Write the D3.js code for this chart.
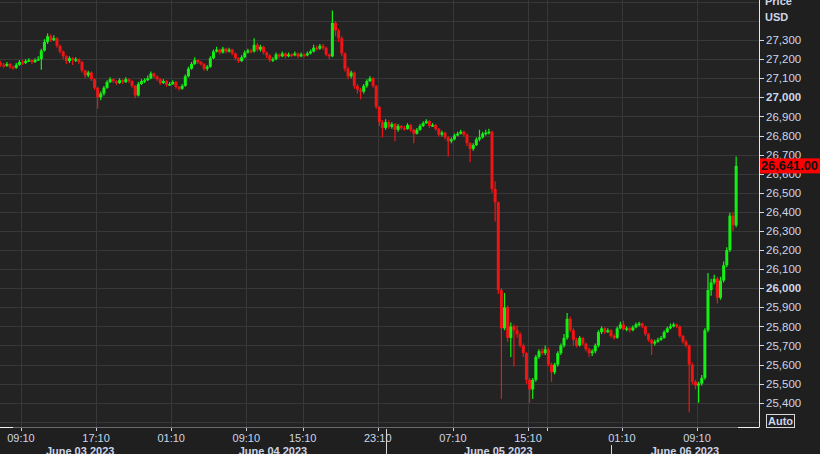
<!DOCTYPE html>
<html><head><meta charset="utf-8">
<script src="https://cdn.jsdelivr.net/npm/d3@7"></script>
<style>html,body{margin:0;padding:0;background:#1f1f1f;overflow:hidden}svg{display:block}</style>
</head><body>
<svg id="chart" width="820" height="454"></svg>
<script>
// ---------- DATA ----------
const startTime = "2023-06-03T07:00:00Z";   // first candle
const stepMinutes = 20;                      // candle interval
const firstOpen = 27180;
const closes = [
27170,27165,27175,27160,27155,27170,27185,27180,27190,27195,
27185,27195,27200,27245,27290,27320,27300,27310,27270,27240,
27215,27190,27205,27195,27200,27185,27140,27115,27130,27095,
27050,27000,27020,27050,27080,27095,27085,27075,27090,27080,
27095,27085,27060,27010,27070,27085,27090,27100,27125,27110,
27095,27075,27085,27065,27070,27080,27055,27045,27060,27110,
27150,27175,27195,27185,27175,27150,27160,27205,27240,27250,
27235,27255,27240,27250,27230,27205,27190,27210,27235,27245,
27240,27275,27250,27265,27235,27220,27195,27200,27225,27215,
27230,27215,27225,27220,27230,27215,27225,27220,27230,27240,
27260,27255,27270,27260,27225,27215,27390,27350,27310,27230,
27150,27110,27130,27060,27040,27030,27060,27085,27100,27060,
26950,26870,26840,26870,26845,26860,26830,26850,26840,26835,
26855,26830,26810,26830,26850,26865,26875,26850,26855,26835,
26805,26815,26790,26770,26780,26800,26810,26820,26805,26760,
26730,26750,26780,26790,26810,26815,26820,26520,26450,25990,
25790,25900,25740,25800,25780,25760,25700,25660,25520,25470,
25520,25640,25670,25660,25680,25600,25560,25600,25660,25700,
25740,25840,25780,25730,25700,25740,25710,25680,25660,25670,
25700,25770,25790,25770,25780,25750,25740,25790,25810,25785,
25790,25780,25795,25810,25815,25800,25760,25730,25710,25720,
25730,25740,25770,25790,25800,25810,25800,25750,25720,25700,
25600,25510,25490,25500,25530,25780,25990,26030,26050,25950,
26040,26120,26200,26380,26330,26641];
const highs = [
27190,27180,27185,27180,27165,27180,27195,27195,27200,27205,
27200,27205,27215,27255,27305,27335,27330,27325,27315,27275,
27245,27220,27215,27210,27210,27205,27190,27145,27140,27135,
27100,27055,27030,27060,27090,27105,27100,27090,27100,27095,
27105,27100,27090,27065,27080,27095,27100,27115,27135,27130,
27115,27100,27095,27090,27080,27090,27085,27060,27070,27120,
27160,27185,27210,27200,27190,27180,27170,27215,27250,27265,
27255,27265,27260,27260,27255,27235,27210,27220,27245,27255,
27255,27310,27285,27275,27270,27240,27225,27210,27235,27230,
27240,27235,27235,27230,27240,27235,27235,27230,27240,27250,
27275,27270,27280,27280,27265,27230,27455,27400,27360,27320,
27235,27160,27140,27135,27070,27050,27070,27095,27110,27105,
27065,26955,26880,26885,26880,26870,26865,26860,26855,26850,
26865,26860,26835,26840,26860,26875,26885,26880,26865,26860,
26840,26825,26820,26795,26790,26810,26820,26830,26825,26810,
26765,26760,26790,26830,26820,26830,26835,26825,26560,26455,
26000,25975,25910,25820,25810,25805,25770,25710,25665,25530,
25530,25650,25680,25685,25700,25690,25610,25610,25670,25710,
25760,25870,25850,25790,25740,25750,25745,25715,25690,25680,
25710,25780,25800,25795,25790,25785,25760,25800,25825,25830,
25800,25795,25805,25820,25825,25820,25805,25765,25735,25730,
25740,25750,25780,25800,25815,25820,25815,25805,25755,25730,
25705,25610,25520,25510,25545,25790,26080,26050,26070,26060,
26060,26140,26215,26395,26400,26690];
const lows = [
27160,27155,27160,27150,27145,27150,27165,27170,27175,27185,
27175,27180,27190,27145,27240,27280,27290,27295,27260,27230,
27200,27175,27180,27170,27185,27175,27130,27100,27105,27085,
27040,26940,26985,27010,27045,27075,27075,27065,27070,27070,
27075,27075,27050,26995,27005,27065,27075,27085,27095,27100,
27085,27065,27070,27055,27060,27065,27045,27035,27040,27055,
27105,27145,27170,27175,27165,27140,27140,27155,27200,27235,
27225,27230,27230,27235,27220,27195,27180,27185,27205,27230,
27230,27235,27240,27240,27225,27205,27185,27185,27195,27205,
27210,27205,27210,27210,27215,27205,27210,27210,27215,27225,
27235,27245,27250,27250,27215,27200,27210,27320,27290,27215,
27135,27095,27100,27045,27020,26990,27020,27050,27080,27050,
26940,26850,26790,26830,26835,26835,26770,26820,26830,26825,
26830,26820,26760,26805,26825,26845,26860,26840,26845,26825,
26795,26795,26780,26690,26760,26775,26795,26805,26795,26745,
26660,26720,26745,26770,26785,26800,26805,26500,26350,25970,
25420,25780,25720,25640,25590,25740,25690,25640,25500,25400,
25420,25510,25630,25650,25650,25590,25510,25550,25590,25650,
25690,25730,25770,25700,25690,25695,25700,25670,25640,25645,
25660,25690,25760,25760,25765,25740,25730,25735,25785,25780,
25775,25770,25775,25790,25800,25790,25750,25720,25650,25700,
25715,25725,25735,25765,25785,25795,25790,25740,25710,25690,
25350,25495,25470,25400,25490,25520,25770,25960,26020,25920,
25940,26030,26110,26190,26300,26320];
const lastPrice = 26641.00;
const priceTicks = [25400,25500,25600,25700,25800,25900,26000,26100,26200,26300,26400,26500,26600,26700,26800,26900,27000,27100,27200,27300];
const boldPriceTicks = [26000,27000];
const gridPrices = [25300,25400,25500,25600,25700,25800,25900,26000,26100,26200,26300,26400,26500,26600,26700,26800,26900,27000,27100,27200,27300,27400,27500];
const timeTicks = ["2023-06-03T09:10Z","2023-06-03T17:10Z","2023-06-04T01:10Z","2023-06-04T09:10Z","2023-06-04T15:10Z","2023-06-04T23:10Z","2023-06-05T07:10Z","2023-06-05T15:10Z","2023-06-05T17:10Z","2023-06-06T01:10Z","2023-06-06T09:10Z"];
const timeTickLabels = ["09:10","17:10","01:10","09:10","15:10","23:10","07:10","15:10","","01:10","09:10"];
const days = ["2023-06-03","2023-06-04","2023-06-05","2023-06-06"];
const dayLabels = ["June 03 2023","June 04 2023","June 05 2023","June 06 2023"];
const daySeparators = ["2023-06-05T00:00Z","2023-06-06T00:00Z"];
const viewStart = "2023-06-03T06:56:00Z", viewEnd = "2023-06-06T15:46:00Z";
const priceMin = 25273, priceMax = 27510;

// ---------- LAYOUT ----------
const W = 820, H = 454, plotW = 759, plotH = 427;
const textCol = "#cdd6e8", gridCol = "#383838", upCol = "#14f014", downCol = "#f01414";
const svg = d3.select("#chart");
const x = d3.scaleUtc().domain([new Date(viewStart), new Date(viewEnd)]).range([0, plotW]);
const y = d3.scaleLinear().domain([priceMin, priceMax]).range([plotH, 0]);

svg.append("rect").attr("width", W).attr("height", H).attr("fill", "#1f1f1f");
svg.append("rect").attr("width", plotW).attr("height", plotH).attr("fill", "#232323");

svg.append("defs").append("clipPath").attr("id","clip").append("rect").attr("width", plotW).attr("height", plotH);
const plot = svg.append("g").attr("clip-path","url(#clip)");

// grid
plot.selectAll("line.hg").data(gridPrices).join("line").attr("class","hg")
  .attr("x1",0).attr("x2",plotW).attr("y1",d=>Math.round(y(d))+0.5).attr("y2",d=>Math.round(y(d))+0.5)
  .attr("stroke",gridCol).attr("stroke-width",1);
plot.selectAll("line.vg").data(timeTicks).join("line").attr("class","vg")
  .attr("y1",0).attr("y2",plotH).attr("x1",d=>Math.round(x(new Date(d)))+0.5).attr("x2",d=>Math.round(x(new Date(d)))+0.5)
  .attr("stroke",gridCol).attr("stroke-width",1);

// candles
const t0 = new Date(startTime).getTime();
const candles = closes.map((c,i)=>({
  t: new Date(t0 + i*stepMinutes*60000),
  o: i===0 ? firstOpen : closes[i-1], c, h: highs[i], l: lows[i]
}));
const bw = 3.0;
const cg = plot.append("g");
cg.selectAll("line").data(candles).join("line")
  .attr("x1",d=>x(d.t)).attr("x2",d=>x(d.t))
  .attr("y1",d=>y(d.h)).attr("y2",d=>y(d.l))
  .attr("stroke",d=>d.c>=d.o?upCol:downCol).attr("stroke-width",1.2);
cg.selectAll("rect").data(candles).join("rect")
  .attr("x",d=>x(d.t)-bw/2).attr("width",bw)
  .attr("y",d=>y(Math.max(d.o,d.c)))
  .attr("height",d=>Math.max(1.5,Math.abs(y(d.o)-y(d.c))))
  .attr("fill",d=>d.c>=d.o?upCol:downCol);

// right axis
const axR = svg.append("g").attr("transform",`translate(${plotW},0)`);
axR.append("line").attr("x1",0.5).attr("x2",0.5).attr("y1",0).attr("y2",plotH+0.5).attr("stroke","#e8e8e8");
axR.selectAll("line.t").data(priceTicks).join("line").attr("class","t")
  .attr("x1",1).attr("x2",5).attr("y1",d=>Math.round(y(d))+0.5).attr("y2",d=>Math.round(y(d))+0.5).attr("stroke",textCol);
axR.selectAll("text.t").data(priceTicks).join("text").attr("class","t")
  .attr("x",7).attr("y",d=>y(d)).attr("dy","0.36em")
  .attr("font-family","'Liberation Sans', Arial, sans-serif").attr("font-size","11.5px")
  .attr("font-weight",d=>boldPriceTicks.includes(d)?"bold":"normal")
  .attr("fill",textCol).text(d=>d3.format(",")(d));
axR.append("text").attr("x",6).attr("y",5).attr("font-family","'Liberation Sans', Arial, sans-serif")
  .attr("font-size","11px").attr("font-weight","bold").attr("fill",textCol).text("Price");
axR.append("text").attr("x",6).attr("y",21).attr("font-family","'Liberation Sans', Arial, sans-serif")
  .attr("font-size","11px").attr("font-weight","bold").attr("fill",textCol).text("USD");

// last price label
const ly = y(lastPrice);
svg.append("rect").attr("x",plotW+1).attr("y",ly-7.5).attr("width",W-plotW-1).attr("height",15).attr("fill","#ff0000");
svg.append("text").attr("x",plotW+2).attr("y",ly).attr("dy","0.37em")
  .attr("font-family","'Liberation Sans', Arial, sans-serif").attr("font-size","12px").attr("font-weight","bold")
  .attr("textLength",57).attr("lengthAdjust","spacingAndGlyphs")
  .attr("fill","#111").text(d3.format(",.2f")(lastPrice));

// Auto box
svg.append("rect").attr("x",766.5).attr("y",414.5).attr("width",28).attr("height",13).attr("fill","none").attr("stroke","#d8d8d8");
svg.append("text").attr("x",780.5).attr("y",425).attr("text-anchor","middle")
  .attr("font-family","'Liberation Sans', Arial, sans-serif").attr("font-size","11px").attr("font-weight","bold")
  .attr("fill",textCol).text("Auto");

// bottom axis
svg.append("line").attr("x1",0).attr("x2",plotW).attr("y1",plotH+0.5).attr("y2",plotH+0.5).attr("stroke","#6a6a6a");
svg.append("line").attr("x1",0).attr("x2",13).attr("y1",plotH+0.5).attr("y2",plotH+0.5).attr("stroke","#f0f0f0");
svg.append("line").attr("x1",738).attr("x2",plotW).attr("y1",plotH+0.5).attr("y2",plotH+0.5).attr("stroke","#f0f0f0");
const axB = svg.append("g");
axB.selectAll("line").data(timeTicks).join("line")
  .attr("x1",d=>Math.round(x(new Date(d)))+0.5).attr("x2",d=>Math.round(x(new Date(d)))+0.5)
  .attr("y1",plotH+1).attr("y2",plotH+4).attr("stroke",textCol);
axB.selectAll("text").data(timeTicks).join("text")
  .attr("x",d=>x(new Date(d))).attr("y",442).attr("text-anchor","middle")
  .attr("font-family","'Liberation Sans', Arial, sans-serif").attr("font-size","11px")
  .attr("fill",textCol).text((d,i)=>timeTickLabels[i]);
svg.selectAll("line.sep").data(daySeparators).join("line").attr("class","sep")
  .attr("x1",d=>Math.round(x(new Date(d)))+0.5).attr("x2",d=>Math.round(x(new Date(d)))+0.5)
  .attr("y1",(d,i)=>i===0?plotH+2:445).attr("y2",H).attr("stroke","#d8d8d8");
const v0 = new Date(viewStart), v1 = new Date(viewEnd);
svg.selectAll("text.day").data(days).join("text").attr("class","day")
  .attr("x",d=>{const a=new Date(d+"T00:00Z"), b=new Date(a.getTime()+86400000);
     const s=a<v0?v0:a, e=b>v1?v1:b; return (x(s)+x(e))/2;})
  .attr("y",455).attr("text-anchor","middle")
  .attr("font-family","'Liberation Sans', Arial, sans-serif").attr("font-size","11px").attr("font-weight","bold")
  .attr("fill",textCol).text((d,i)=>dayLabels[i]);
</script>
</body></html>
